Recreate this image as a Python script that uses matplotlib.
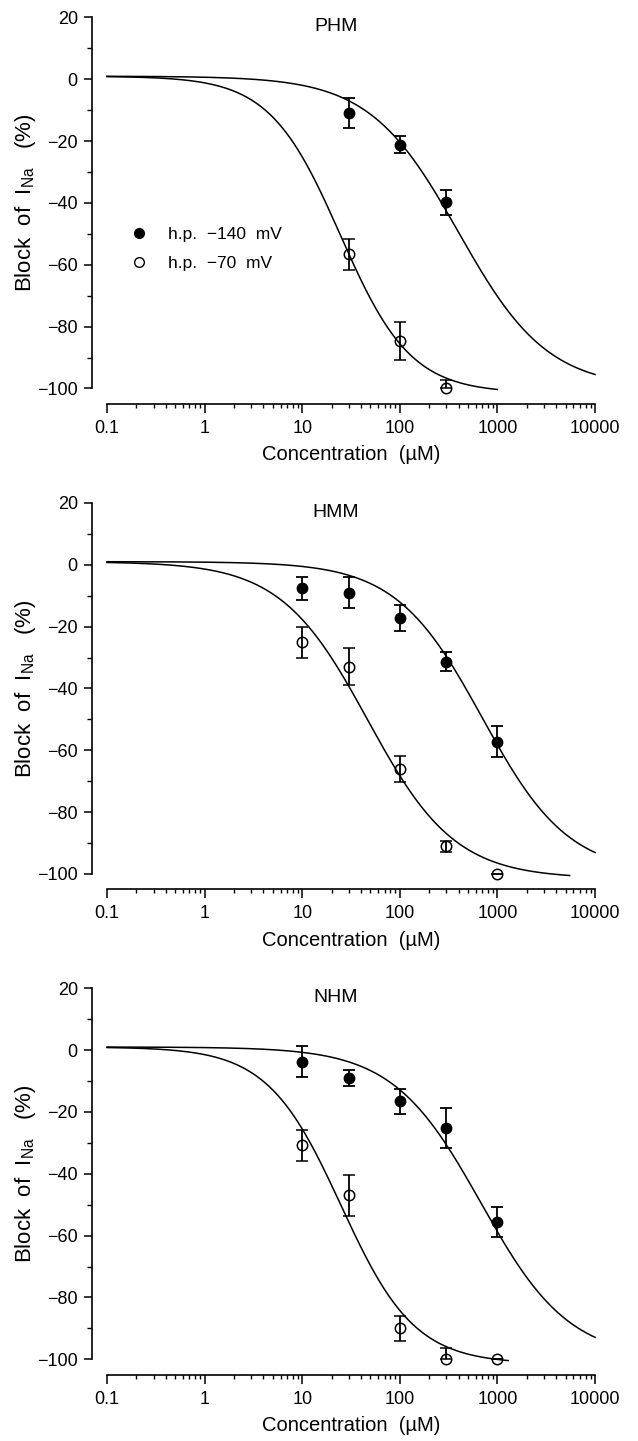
import numpy as np
import matplotlib
matplotlib.use("Agg")
import matplotlib.pyplot as plt
from matplotlib.lines import Line2D
from matplotlib.ticker import LogLocator, FixedLocator, NullFormatter

plt.rcParams['font.family'] = ['Liberation Sans', 'DejaVu Sans']
plt.rcParams['mathtext.fontset'] = 'custom'
plt.rcParams['mathtext.rm'] = 'Liberation Sans'

panel_names = ['PHM', 'HMM', 'NHM']

# concentrations (uM)
conc_140 = [[30, 100, 300], [10, 30, 100, 300, 1000], [10, 30, 100, 300, 1000]]
conc_70 = [[30, 100, 300], [10, 30, 100, 300, 1000], [10, 30, 100, 300, 1000]]

# block (%) at h.p. -140 mV (filled) and -70 mV (open)
block_140 = [[-10.9, -21.2, -39.8], [-7.6, -9.0, -17.2, -31.3, -57.2], [-3.7, -9.1, -16.6, -25.1, -55.7]]
err_140 = [[4.9, 2.8, 4.0], [3.8, 5.0, 4.1, 3.0, 4.9], [5.0, 2.5, 4.0, 6.5, 4.9]]
block_70 = [[-56.6, -84.7, -100.0], [-25.1, -33.0, -66.1, -91.1, -100.0], [-30.8, -46.9, -90.0, -100.0, -100.0]]
err_70_hi = [[5.0, 6.1, 2.7], [4.9, 6.0, 4.1, 1.9, 0.0], [5.0, 6.6, 4.1, 3.6, 0.0]]
err_70_lo = [[5.0, 6.1, 0.0], [4.9, 6.0, 4.1, 1.9, 0.0], [5.0, 6.6, 4.1, 0.0, 0.0]]

# Hill fit parameters
ic50_140 = [400, 700, 680]
hill_140 = [0.95, 0.98, 0.96]
xend_140 = [10000, 10000, 10000]
bottom_140 = -100.0
ic50_70 = [24.5, 47, 25]
hill_70 = [1.2, 0.97, 1.15]
xend_70 = [1000, 5500, 1290]
bottom_70 = -101.5
fit_top = 1.0

x_ticks = [0.1, 1, 10, 100, 1000, 10000]
x_tick_labels = ['0.1', '1', '10', '100', '1000', '10000']
y_ticks = [-100, -80, -60, -40, -20, 0, 20]


def hill(x, ic50, n, bottom):
    return bottom + (fit_top - bottom) / (1 + (x / ic50) ** n)


fig = plt.figure(figsize=(6.38, 14.41), dpi=100)
bottoms = [0.7304, 0.3935, 0.0567]

for i, name in enumerate(panel_names):
    ax = fig.add_axes([0.1677, bottoms[i], 0.7649, 0.2575])
    ax.set_xscale('log')

    xc = np.logspace(-1, np.log10(xend_140[i]), 300)
    ax.plot(xc, hill(xc, ic50_140[i], hill_140[i], bottom_140), color='black', lw=1.1, zorder=2)
    xo = np.logspace(-1, np.log10(xend_70[i]), 300)
    ax.plot(xo, hill(xo, ic50_70[i], hill_70[i], bottom_70), color='black', lw=1.1, zorder=2)

    ax.errorbar(conc_140[i], block_140[i], yerr=err_140[i], fmt='o', color='black',
                ms=7.5, elinewidth=1.3, capsize=4.5, capthick=1.3, zorder=3)
    ax.errorbar(conc_70[i], block_70[i], yerr=[err_70_lo[i], err_70_hi[i]], fmt='o',
                color='black', mfc='none', mec='black', mew=1.1, ms=7.5,
                elinewidth=1.3, capsize=4.5, capthick=1.3, zorder=3)
    for ln in ax.lines:
        ln.set_clip_on(False)

    ax.set_xlim(0.1, 10000)
    ax.set_ylim(-100, 20)
    ax.spines['top'].set_visible(False)
    ax.spines['right'].set_visible(False)
    ax.spines['left'].set_position(('outward', 10.5))
    ax.spines['bottom'].set_position(('outward', 11))
    for s in ['left', 'bottom']:
        ax.spines[s].set_linewidth(1.2)

    ax.xaxis.set_major_locator(FixedLocator(x_ticks))
    ax.xaxis.set_minor_locator(LogLocator(base=10, subs=np.arange(2, 10), numticks=20))
    ax.xaxis.set_minor_formatter(NullFormatter())
    ax.set_xticklabels(x_tick_labels)
    ax.yaxis.set_major_locator(FixedLocator(y_ticks))
    ax.yaxis.set_minor_locator(FixedLocator(np.array(y_ticks[:-1]) + 10))
    ax.tick_params(axis='both', which='major', direction='out', width=1.1, labelsize=13)
    ax.tick_params(axis='x', which='major', length=6.5, pad=5)
    ax.tick_params(axis='y', which='major', length=5.5, pad=5)
    ax.tick_params(axis='x', which='minor', direction='out', length=3, width=1.0)
    ax.tick_params(axis='y', which='minor', direction='out', length=3.8, width=1.0)

    ax.text(22, 17, name, ha='center', va='center', fontsize=14)
    ax.set_xlabel('Concentration  (\u00b5M)', fontsize=14.5, labelpad=6)
    ax.set_ylabel(r'Block  of  I$_{\rm Na}$   (%)', fontsize=16, labelpad=-1)

    if i == 0:
        handles = [Line2D([], [], marker='o', ls='none', color='black', ms=7),
                   Line2D([], [], marker='o', ls='none', mfc='none', mec='black', mew=1.0, ms=7)]
        ax.legend(handles, ['h.p.  \u2212140  mV', 'h.p.  \u221270  mV'], loc='center left',
                  bbox_to_anchor=(0.016, 0.375), frameon=False, fontsize=12.5,
                  handlelength=1.0, handletextpad=1.15, labelspacing=0.8)

fig.savefig('out.png', dpi=100)
